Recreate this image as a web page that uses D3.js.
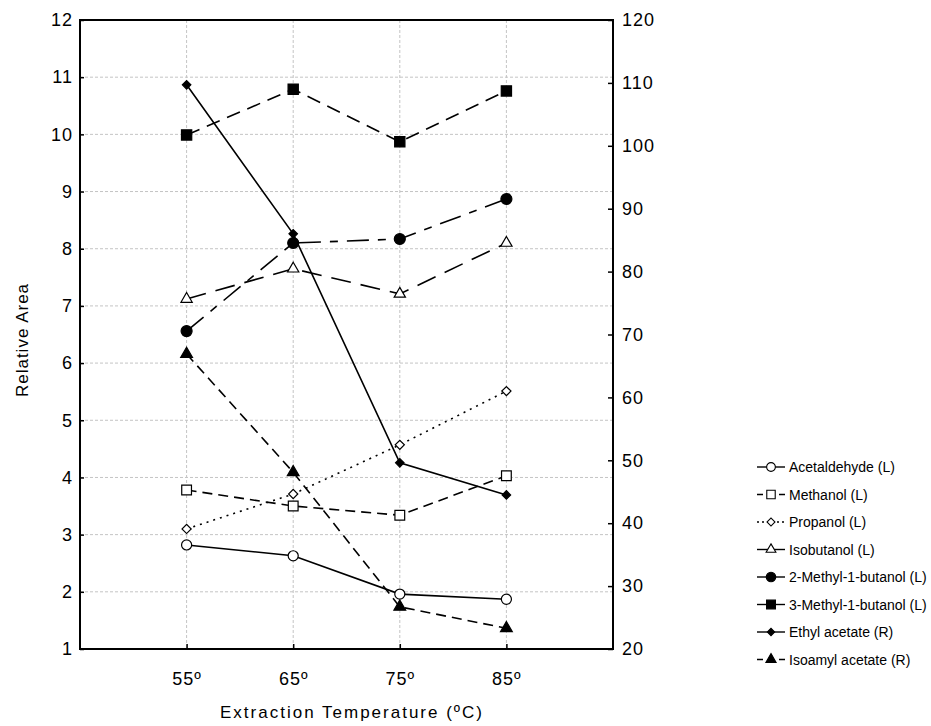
<!DOCTYPE html>
<html><head><meta charset="utf-8">
<script src="https://cdn.jsdelivr.net/npm/d3@7"></script>
<style>body{margin:0;background:#fff}svg{display:block}text{font-family:"Liberation Sans",Arial,sans-serif;fill:#000}</style>
</head><body><svg id="c" width="931" height="726"></svg>
<script>
const temps = [55, 65, 75, 85];
const tickLabels = ["55º", "65º", "75º", "85º"];
const leftTicks = [1,2,3,4,5,6,7,8,9,10,11,12];
const rightTicks = [20,30,40,50,60,70,80,90,100,110,120];
const acetaldehyde = [2.82, 2.63, 1.96, 1.87];
const methanol = [3.78, 3.50, 3.34, 4.03];
const propanol = [3.10, 3.71, 4.57, 5.51];
const isobutanol = [7.12, 7.65, 7.21, 8.10];
const methylbutanol2 = [6.56, 8.10, 8.17, 8.87];
const methylbutanol3 = [9.99, 10.79, 9.87, 10.76];
const ethylAcetate = [109.7, 86.0, 49.6, 44.5];
const isoamylAcetate = [66.9, 48.1, 26.7, 23.3];

const series = [
  {name:"Acetaldehyde (L)", values:acetaldehyde, axis:"L", dash:null, ldash:null, sym:"circle", fill:"#fff", size:80},
  {name:"Methanol (L)", values:methanol, axis:"L", dash:"10,6", ldash:"6,5", sym:"square", fill:"#fff", size:95},
  {name:"Propanol (L)", values:propanol, axis:"L", dash:"2,5", ldash:"2,3", sym:"diamond", fill:"#fff", size:42},
  {name:"Isobutanol (L)", values:isobutanol, axis:"L", dash:"20,10", ldash:null, sym:"triangle", fill:"#fff", size:55},
  {name:"2-Methyl-1-butanol (L)", values:methylbutanol2, axis:"L", dash:"22,9,8,9", ldash:null, sym:"circle", fill:"#000", size:95},
  {name:"3-Methyl-1-butanol (L)", values:methylbutanol3, axis:"L", dash:"14,8", ldash:null, sym:"square", fill:"#000", size:105},
  {name:"Ethyl acetate (R)", values:ethylAcetate, axis:"R", dash:null, ldash:null, sym:"diamond", fill:"#000", size:36},
  {name:"Isoamyl acetate (R)", values:isoamylAcetate, axis:"R", dash:"10,6", ldash:"6,5", sym:"triangle", fill:"#000", size:60}
];
const symMap = {circle:d3.symbolCircle, square:d3.symbolSquare, diamond:d3.symbolSquare, triangle:d3.symbolTriangle};
const rot = s => s === "diamond" ? " rotate(45)" : "";

const L = 80, R = 613, T = 20, B = 649;
const svg = d3.select("#c");
const x = d3.scaleLinear().domain([45, 95]).range([L, R]);
const yL = d3.scaleLinear().domain([1, 12]).range([B, T]);
const yR = d3.scaleLinear().domain([20, 120]).range([B, T]);

// grid
const g = svg.append("g").attr("stroke", "#c4c4c4").attr("stroke-width", 1).attr("stroke-dasharray", "3,2");
leftTicks.slice(1, -1).forEach(v => g.append("line").attr("x1", L).attr("x2", R).attr("y1", yL(v)).attr("y2", yL(v)));
temps.forEach(v => g.append("line").attr("x1", x(v)).attr("x2", x(v)).attr("y1", T).attr("y2", B));

// axes
const axL = svg.append("g").attr("transform", `translate(${L},0)`)
  .call(d3.axisLeft(yL).tickValues(leftTicks).tickSize(-4).tickPadding(7).tickFormat(d3.format("d")));
const axR = svg.append("g").attr("transform", `translate(${R},0)`)
  .call(d3.axisRight(yR).tickValues(rightTicks).tickSize(-5).tickPadding(9).tickFormat(d3.format("d")));
const axB = svg.append("g").attr("transform", `translate(0,${B})`)
  .call(d3.axisBottom(x).tickValues(temps).tickSize(-5).tickPadding(23).tickFormat((d,i) => tickLabels[i]));
[axL, axR, axB].forEach(a => {
  a.select(".domain").remove();
  a.selectAll(".tick line").attr("stroke", "#000").attr("stroke-width", 1.5);
  a.selectAll(".tick text").attr("font-size", 18).attr("letter-spacing", 1)
    .attr("font-family", "Liberation Sans, Arial, sans-serif").attr("fill", "#000");
});
svg.append("rect").attr("x", L).attr("y", T).attr("width", R - L).attr("height", B - T)
  .attr("fill", "none").attr("stroke", "#000").attr("stroke-width", 2);

// titles
svg.append("text").attr("x", 352).attr("y", 718).attr("text-anchor", "middle").attr("font-size", 17)
  .attr("letter-spacing", 2).text("Extraction Temperature (ºC)");
svg.append("text").attr("transform", `translate(28,340) rotate(-90)`).attr("text-anchor", "middle").attr("font-size", 17)
  .attr("letter-spacing", 1).text("Relative Area");

// series
series.forEach(s => {
  const yy = s.axis === "L" ? yL : yR;
  const line = d3.line().x((d, i) => x(temps[i])).y(d => yy(d));
  svg.append("path").datum(s.values).attr("d", line).attr("fill", "none").attr("stroke", "#000")
    .attr("stroke-width", 1.6).attr("stroke-dasharray", s.dash);
  svg.append("g").selectAll("path").data(s.values).join("path")
    .attr("transform", (d, i) => `translate(${x(temps[i])},${yy(d)})` + rot(s.sym))
    .attr("d", d3.symbol().type(symMap[s.sym]).size(s.size))
    .attr("fill", s.fill).attr("stroke", "#000").attr("stroke-width", 1.2);
});

// legend
const lg = svg.append("g").attr("transform", "translate(757,467)");
series.forEach((s, i) => {
  const row = lg.append("g").attr("transform", `translate(0,${i * 27.5})`);
  row.append("line").attr("x1", 0).attr("x2", 28).attr("y1", 0).attr("y2", 0).attr("stroke", "#000")
    .attr("stroke-width", 1.4).attr("stroke-dasharray", s.ldash);
  row.append("path").attr("transform", "translate(14,0)" + rot(s.sym)).attr("d", d3.symbol().type(symMap[s.sym]).size(s.size * 0.75))
    .attr("fill", s.fill).attr("stroke", "#000").attr("stroke-width", 1.1);
  row.append("text").attr("x", 32).attr("y", 0).attr("dy", "0.36em").attr("font-size", 14).text(s.name);
});
</script></body></html>
